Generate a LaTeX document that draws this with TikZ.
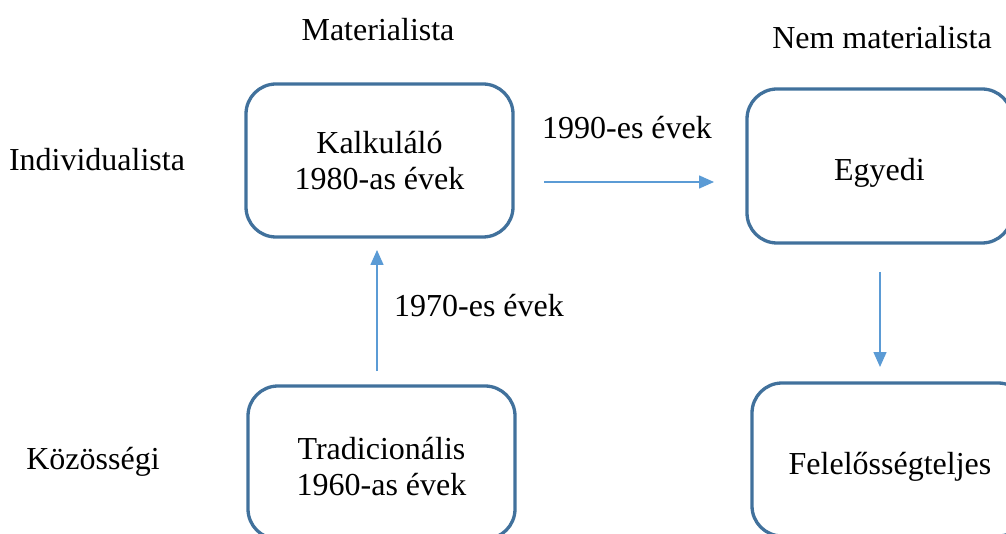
\documentclass[tikz,border=0pt]{standalone}
\usepackage{fontspec}
\setmainfont{Liberation Serif}
\usetikzlibrary{arrows.meta}
\definecolor{boxblue}{HTML}{41719C}
\definecolor{arrowblue}{HTML}{5B9BD5}
% lower a line of box text without changing the space it claims
\newcommand{\dropline}[2]{\raisebox{-#1}[\height][\depth]{#2}}
\begin{document}
\begin{tikzpicture}[x=1pt,y=-1pt,
  every node/.style={font=\fontsize{32}{36.5}\selectfont, text=black},
  phase/.style={draw=boxblue, line width=3.3pt, rounded corners=30pt, align=center,
    inner sep=0pt},
  link/.style={draw=arrowblue, line width=1.5pt, -{Triangle[length=15pt,width=13pt]}},
  tag/.style={anchor=center}]
  \useasboundingbox (0,0) rectangle (1006,534);
  \clip (0,0) rectangle (1006,534);

  % column and row headings
  \node[tag] (mat) at (378,30) {Materialista};
  \node[tag] (nemmat) at (882,38) {Nem materialista};
  \node[tag] (indiv) at (97,160) {Individualista};
  \node[tag] (kozos) at (93,462) {Közösségi};

  % the four value orientations
  \node[phase, minimum width=267pt, minimum height=153pt] (kalk) at (379.5,160.5)
    {Kalkuláló\\1980-as évek};
  \node[phase, minimum width=265pt, minimum height=154pt] (egyedi) at (879.5,166)
    {\dropline{7pt}{Egyedi}};
  \node[phase, minimum width=267pt, minimum height=153pt] (trad) at (381.5,462.5)
    {\dropline{4pt}{Tradicionális}\\\dropline{4pt}{1960-as évek}};
  \node[phase, minimum width=276pt, minimum height=153pt] (felelos) at (890,459.5)
    {\dropline{7pt}{Felelősségteljes}};

  % transitions between them
  \coordinate (h1) at (544,182);
  \coordinate (h2) at (714,182);
  \coordinate (v1) at (377,371);
  \coordinate (v2) at (377,250);
  \coordinate (r1) at (880,272);
  \coordinate (r2) at (880,367);
  \draw[link] (h1) -- (h2);
  \draw[link] (v1) -- (v2);
  \draw[link] (r1) -- (r2);

  \node[tag] (l1990) at (627,128) {1990-es évek};
  \node[tag] (l1970) at (479,306) {1970-es évek};
\end{tikzpicture}
\end{document}
